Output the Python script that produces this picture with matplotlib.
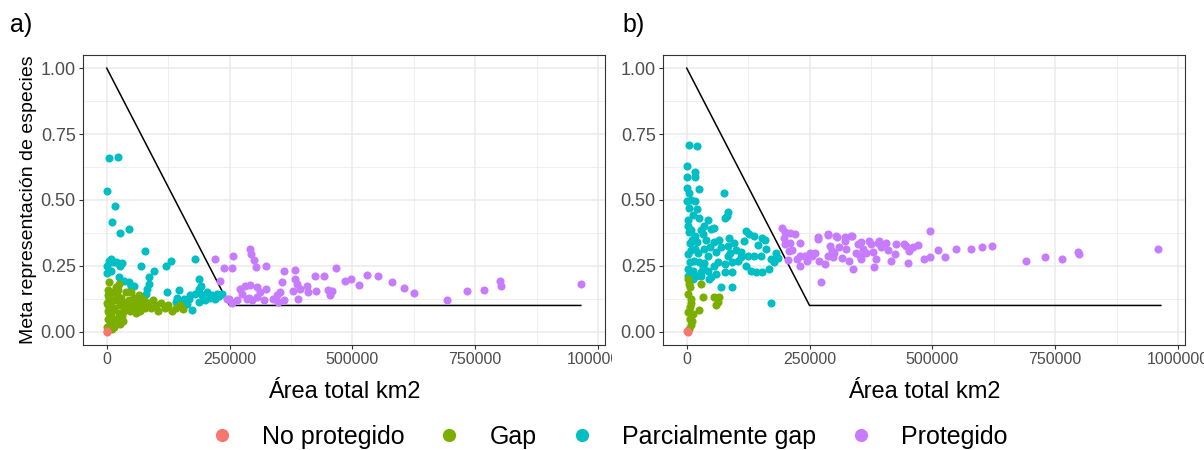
import matplotlib
matplotlib.use("Agg")
import matplotlib.pyplot as plt
from matplotlib.lines import Line2D
from matplotlib.transforms import Bbox, TransformedBbox
import numpy as np

plt.rcParams['font.family'] = ['Liberation Sans', 'DejaVu Sans']

# ---------------- data (x in thousands of km2) ----------------
categories = ["No protegido", "Gap", "Parcialmente gap", "Protegido"]
colors = ["#F8766D", "#7CAE00", "#00BFC4", "#C77CFF"]

target_x = [0, 250000, 965000]
target_y = [1.0, 0.1, 0.1]

# panel a
nop_a_x = [0, 1.5]
nop_a_y = [0.0, 0.003]

gap_a_x = [1, 2, 3, 1, 4, 2, 5, 6, 8, 7, 9, 3, 10, 12, 11, 15, 18, 14, 16, 20, 22, 25, 28, 30, 33,
           35, 38, 40, 24, 19, 13, 27, 32, 42, 45, 48, 52, 55, 58, 62, 65, 68, 72, 75, 78, 50, 60,
           85, 90, 95, 100, 105, 110, 118, 125, 132, 140, 150, 155, 4, 6, 2]
gap_a_y = [0.02, 0.05, 0.08, 0.11, 0.13, 0.16, 0.19, 0.03, 0.06, 0.10, 0.12, 0.14, 0.01, 0.04, 0.08,
           0.02, 0.05, 0.09, 0.12, 0.14, 0.16, 0.07, 0.10, 0.13, 0.04, 0.08, 0.11, 0.15, 0.18, 0.17,
           0.15, 0.03, 0.06, 0.10, 0.12, 0.08, 0.10, 0.13, 0.09, 0.11, 0.14, 0.08, 0.10, 0.12, 0.09,
           0.15, 0.07, 0.11, 0.09, 0.12, 0.10, 0.08, 0.11, 0.09, 0.10, 0.08, 0.09, 0.10, 0.085, 0.07,
           0.15, 0.10]

pg_a_x = [5, 23, 0, 16, 10, 28, 45, 77, 5, 13, 22, 32, 0, 8, 1.5, 8, 18, 28, 69, 120, 130, 180, 96,
          25, 35, 45, 55, 86, 86, 82, 79, 123, 143, 140, 160, 164, 174, 180, 187, 187, 194, 204, 214,
          224, 234, 187, 201, 150, 157, 147, 72, 49, 167, 191, 210, 220, 228, 170]
pg_a_y = [0.658, 0.664, 0.536, 0.478, 0.416, 0.376, 0.39, 0.307, 0.27, 0.265, 0.26, 0.26, 0.225,
          0.232, 0.25, 0.276, 0.263, 0.25, 0.25, 0.25, 0.267, 0.276, 0.232, 0.207, 0.194, 0.188,
          0.175, 0.207, 0.182, 0.163, 0.144, 0.15, 0.13, 0.113, 0.119, 0.106, 0.081, 0.144, 0.163,
          0.2, 0.138, 0.15, 0.138, 0.144, 0.144, 0.113, 0.119, 0.106, 0.125, 0.16, 0.125, 0.175,
          0.125, 0.175, 0.13, 0.125, 0.135, 0.14]

prot_a_x = [221, 257, 238, 256, 231, 291, 293, 299, 304, 324, 360, 383, 424, 442, 466, 485, 498, 514,
            529, 552, 581, 605, 625, 693, 733, 767, 800, 802, 965, 245, 255, 272, 282, 292, 275, 285,
            295, 306, 312, 306, 324, 339, 346, 353, 356, 360, 349, 383, 387, 394, 380, 390, 407, 409,
            427, 451, 458, 454, 248, 265, 290, 320]
prot_a_y = [0.278, 0.286, 0.242, 0.241, 0.194, 0.313, 0.294, 0.273, 0.244, 0.248, 0.229, 0.235, 0.213,
            0.213, 0.242, 0.192, 0.2, 0.179, 0.215, 0.21, 0.19, 0.165, 0.148, 0.121, 0.153, 0.159,
            0.194, 0.175, 0.182, 0.125, 0.11, 0.163, 0.175, 0.178, 0.144, 0.125, 0.119, 0.131, 0.15,
            0.169, 0.163, 0.125, 0.138, 0.15, 0.188, 0.119, 0.113, 0.2, 0.182, 0.163, 0.153, 0.125,
            0.175, 0.15, 0.154, 0.159, 0.153, 0.138, 0.125, 0.12, 0.13, 0.12]

# panel b
nop_b_x = [0, 2]
nop_b_y = [0.003, 0.0]

gap_b_x = [2.7, 6, 2.7, 9.5, 6, 12.7, 6, 9.5, 29.6, 32.9, 26, 56.4, 63, 60, 66.5, 4, 8, 3, 11, 5]
gap_b_y = [0.2, 0.169, 0.144, 0.125, 0.094, 0.069, 0.05, 0.025, 0.182, 0.132, 0.081, 0.132, 0.113,
           0.1, 0.132, 0.18, 0.11, 0.075, 0.04, 0.012]

pg_b_x = [4, 21.6, 0, 1.4, 17.5, 16, 0, 4, 26, 8, 0, 17.5, 4, 21.6, 75, 83, 77, 82, 2.7, 12.7, 26, 43,
          9.5, 29.6, 49.8, 56.4, 32.9, 16.1, 86.7, 120, 127, 154, 6, 2.7, 16, 36, 43, 26, 6, 12.7,
          29.6, 43, 2.7, 19.5, 32.9, 60, 70, 83, 97, 117, 137, 110, 83, 63, 77, 93, 110, 124, 137,
          151, 161, 171, 177, 167, 154, 141, 131, 93, 77, 60, 50, 70, 93, 171,
          10, 20, 40, 55, 8, 22, 48, 65, 100, 105, 3, 15, 36, 55, 88, 145, 160, 185, 182, 4, 2, 35,
          120, 12, 30, 45]
pg_b_y = [0.708, 0.704, 0.629, 0.589, 0.608, 0.589, 0.545, 0.526, 0.541, 0.501, 0.495, 0.495, 0.47,
          0.464, 0.526, 0.453, 0.432, 0.441, 0.426, 0.445, 0.432, 0.426, 0.388, 0.388, 0.391, 0.395,
          0.37, 0.363, 0.357, 0.382, 0.37, 0.357, 0.338, 0.294, 0.313, 0.313, 0.288, 0.263, 0.263,
          0.232, 0.226, 0.232, 0.213, 0.213, 0.244, 0.301, 0.32, 0.326, 0.338, 0.344, 0.363, 0.301,
          0.288, 0.263, 0.257, 0.263, 0.282, 0.288, 0.288, 0.288, 0.313, 0.276, 0.263, 0.238, 0.226,
          0.226, 0.232, 0.226, 0.226, 0.219, 0.207, 0.169, 0.169, 0.11,
          0.35, 0.34, 0.35, 0.34, 0.31, 0.30, 0.32, 0.35, 0.31, 0.27, 0.24, 0.27, 0.26, 0.25, 0.30,
          0.33, 0.35, 0.28, 0.30, 0.38, 0.40, 0.40, 0.25, 0.20, 0.21, 0.20]

prot_b_x = [194, 211, 221, 198, 201, 208, 211, 231, 207, 231, 241, 255, 231, 244, 267, 287, 305, 292,
            295, 288, 298, 282, 322, 335, 349, 325, 352, 339, 359, 355, 376, 389, 406, 379, 386, 382,
            426, 423, 446, 274, 495, 443, 460, 453, 450, 483, 495, 511, 526, 549, 579, 602, 622, 690,
            730, 764, 796, 798, 960, 267, 287, 303, 322, 337, 355, 372, 392, 300, 310, 345, 365, 395,
            262, 270, 316, 330, 410, 470, 415, 200, 215, 225, 250]
prot_b_y = [0.395, 0.376, 0.37, 0.357, 0.332, 0.307, 0.338, 0.338, 0.273, 0.288, 0.288, 0.288, 0.25,
            0.27, 0.353, 0.366, 0.361, 0.326, 0.307, 0.288, 0.282, 0.257, 0.344, 0.363, 0.332, 0.313,
            0.288, 0.238, 0.313, 0.276, 0.332, 0.338, 0.338, 0.301, 0.276, 0.244, 0.332, 0.294, 0.326,
            0.19, 0.382, 0.332, 0.32, 0.307, 0.26, 0.276, 0.282, 0.31, 0.282, 0.313, 0.316, 0.322,
            0.326, 0.27, 0.282, 0.276, 0.303, 0.294, 0.313, 0.36, 0.37, 0.365, 0.36, 0.365, 0.34,
            0.345, 0.345, 0.30, 0.32, 0.30, 0.30, 0.32, 0.30, 0.27, 0.28, 0.27, 0.31, 0.33, 0.27, 0.38,
            0.31, 0.275, 0.30]

x_ticks = [0, 250000, 500000, 750000, 1000000]
x_ticklabels = ["0", "250000", "500000", "750000", "1000000"]
y_ticks = [0.0, 0.25, 0.5, 0.75, 1.0]
y_ticklabels = ["0.00", "0.25", "0.50", "0.75", "1.00"]

panels = [
    ("a)", [(nop_a_x, nop_a_y), (gap_a_x, gap_a_y), (pg_a_x, pg_a_y), (prot_a_x, prot_a_y)]),
    ("b)", [(nop_b_x, nop_b_y), (gap_b_x, gap_b_y), (pg_b_x, pg_b_y), (prot_b_x, prot_b_y)]),
]

# ---------------- figure ----------------
W, H = 1204, 450
fig = plt.figure(figsize=(W / 100, H / 100), dpi=100)
fig.patch.set_facecolor("white")

ax_w = 522 / W
ax_h = 290 / H
ax_b = (H - 345) / H
lefts = [83 / W, 663 / W]
tag_x = [10 / W, 622 / W]

grid_col = "#EBEBEB"
dark = "#333333"
ticktxt = "#4D4D4D"

draw_order = [2, 1, 3, 0]

axes = []
for i, (tag, series) in enumerate(panels):
    ax = fig.add_axes([lefts[i], ax_b, ax_w, ax_h])
    axes.append(ax)
    ax.set_xlim(-48300, 1014300)
    ax.set_ylim(-0.05, 1.05)
    ax.set_facecolor("white")

    # grid
    ax.set_xticks(x_ticks)
    ax.set_xticklabels(x_ticklabels)
    ax.set_yticks(y_ticks)
    ax.set_yticklabels(y_ticklabels)
    ax.set_xticks([125000, 375000, 625000, 875000], minor=True)
    ax.set_yticks([0.125, 0.375, 0.625, 0.875], minor=True)
    ax.grid(which="major", color=grid_col, linewidth=1.1, zorder=0)
    ax.grid(which="minor", color=grid_col, linewidth=0.55, zorder=0)
    ax.set_axisbelow(True)
    ax.tick_params(which="minor", length=0)
    ax.tick_params(axis="both", which="major", length=3, width=0.8, color=dark, pad=2.2)
    ax.tick_params(axis="x", labelsize=11.5, labelcolor=ticktxt)
    ax.tick_params(axis="y", labelsize=13, labelcolor=ticktxt)
    for sp in ax.spines.values():
        sp.set_color(dark)
        sp.set_linewidth(0.8)

    # target line
    ax.plot(target_x, target_y, color="black", linewidth=1.1, zorder=2)

    # points
    for k in draw_order:
        xs, ys = series[k]
        ax.scatter(np.array(xs) * 1000, ys, s=34, color=colors[k], linewidths=0, zorder=3)

    ax.set_xlabel("Área total km2", fontsize=17)
    ax.xaxis.label.set_verticalalignment("baseline")
    ax.xaxis.set_label_coords(0.5, (345 - 398) / 290)
    if i == 0:
        ax.set_ylabel("Meta representación de especies", fontsize=14)
        ax.yaxis.label.set_verticalalignment("baseline")
        ax.yaxis.set_label_coords(-0.096, 0.5)

    fig.text(tag_x[i], (H - 32) / H, tag, fontsize=18, ha="left", va="baseline")

# clip left panel tick labels to the left half (as in reference)
clip = TransformedBbox(Bbox([[0, 0], [612 / W, 1]]), fig.transFigure)
for lab in axes[0].get_xticklabels():
    lab.set_clip_on(True)
    lab.set_clip_box(clip)

# legend
handles = [Line2D([0], [0], marker="o", linestyle="none", markersize=9.5,
                  markerfacecolor=c, markeredgewidth=0) for c in colors]
fig.legend(handles, categories, loc="center", bbox_to_anchor=(0.5, 1 - 437 / H),
           ncol=4, frameon=False, fontsize=18, handlelength=2.0, handletextpad=0.6,
           columnspacing=0.8, borderaxespad=0)

fig.savefig("out.png", dpi=100, facecolor="white")
